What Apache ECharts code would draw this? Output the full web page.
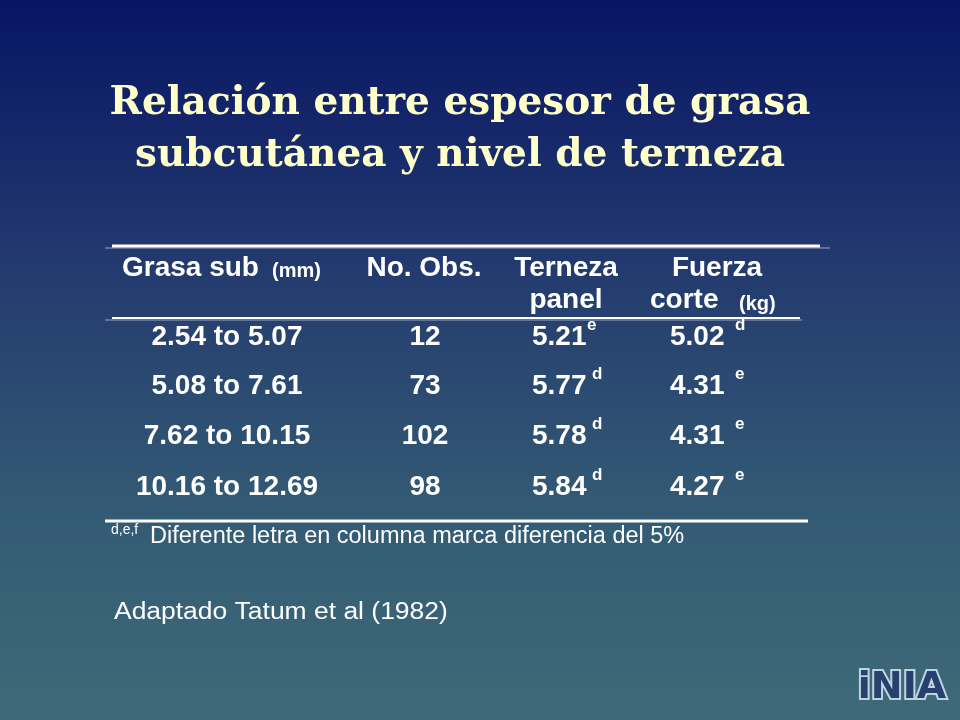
<!DOCTYPE html>
<html><head><meta charset="utf-8">
<script src="https://cdn.jsdelivr.net/npm/echarts@6/dist/echarts.min.js"></script>
<style>html,body{margin:0;padding:0}#c{width:960px;height:720px}</style>
</head><body><div id="c"></div>
<script>
const titleLines = ['Relación entre espesor de grasa', 'subcutánea y nivel de terneza'];
const ranges = ['2.54 to 5.07', '5.08 to 7.61', '7.62 to 10.15', '10.16 to 12.69'];
const obs = ['12', '73', '102', '98'];
const terneza = ['5.21', '5.77', '5.78', '5.84'];
const ternezaSup = ['e', 'd', 'd', 'd'];
const fuerza = ['5.02', '4.31', '4.31', '4.27'];
const fuerzaSup = ['d', 'e', 'e', 'e'];

const rowY = [337, 386, 436, 487];
const bold = 'bold 28px "Liberation Sans", Arial, sans-serif';
const small = 'bold 20px "Liberation Sans", Arial, sans-serif';
const white = '#ffffff';

const txt = (x, y, s, font, align, color) => ({
    type: 'text', x: x, y: y,
    style: { text: s, font: font, fill: color || white, align: align || 'center', verticalAlign: 'middle' }
});
const line = (x1, y, x2, w, color) => ({
    type: 'line', shape: { x1: x1, y1: y, x2: x2, y2: y },
    style: { stroke: color || white, lineWidth: w }
});

const els = [];
//título
titleLines.forEach((t, i) => {
    els.push(txt(460, 104 + i * 52, t, 'bold 39px "DejaVu Serif", "Liberation Serif", serif', 'center', '#ffffcc'));
});
//líneas de la tabla
els.push(line(105, 248, 830, 1, '#9aa6c0'));
els.push(line(112, 246, 820, 3));
els.push(line(105, 320, 802, 1, '#9aa6c0'));
els.push(line(112, 318, 800, 2));
els.push(line(105, 521, 808, 3));
//encabezado
els.push(txt(122, 268, 'Grasa sub', bold, 'left'));
els.push(txt(272, 271, '(mm)', small, 'left'));
els.push(txt(424, 268, 'No. Obs.', bold));
els.push(txt(566, 268, 'Terneza', bold));
els.push(txt(566, 300, 'panel', bold));
els.push(txt(717, 268, 'Fuerza', bold));
els.push(txt(650, 300, 'corte', bold, 'left'));
els.push(txt(739, 304, '(kg)', small, 'left'));
//filas
const supFont = 'bold 17px "Liberation Sans", Arial, sans-serif';
ranges.forEach((r, i) => {
    const y = rowY[i];
    els.push(txt(227, y, r, bold));
    els.push(txt(425, y, obs[i], bold));
    els.push(txt(532, y, terneza[i], bold, 'left'));
    els.push(txt(i === 0 ? 587 : 592, y - 12, ternezaSup[i], supFont, 'left'));
    els.push(txt(670, y, fuerza[i], bold, 'left'));
    els.push(txt(735, y - 12, fuerzaSup[i], supFont, 'left'));
});
//nota
els.push(txt(111, 530, 'd,e,f', '14px "Liberation Sans", Arial, sans-serif', 'left'));
els.push(txt(150, 537, 'Diferente letra en columna marca diferencia del 5%', '23.5px "Liberation Sans", Arial, sans-serif', 'left'));
const fuente = txt(0, 0, 'Adaptado Tatum et al (1982)', '23px "Liberation Sans", Arial, sans-serif', 'left');
fuente.x = 114; fuente.y = 613; fuente.scaleX = 1.15;
els.push(fuente);
//logo
els.push({
    type: 'text', x: 902, y: 688,
    style: {
        text: 'iNIA', font: 'bold 38px "DejaVu Sans", sans-serif', fill: '#27406e',
        align: 'center', verticalAlign: 'middle', stroke: '#bcd6e0', lineWidth: 4
    }
});

const chart = echarts.init(document.getElementById('c'));
chart.setOption({
    backgroundColor: new echarts.graphic.LinearGradient(0, 0, 0, 1, [
        { offset: 0, color: '#071564' },
        { offset: 0.35, color: '#22386e' },
        { offset: 0.7, color: '#335a74' },
        { offset: 1, color: '#3e6a78' }
    ]),
    graphic: els
});
</script></body></html>
